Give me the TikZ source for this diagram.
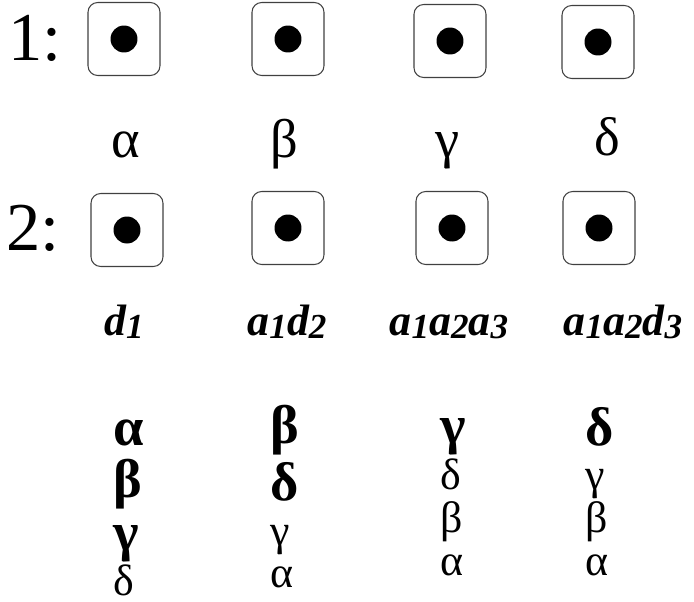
\documentclass[tikz,border=0pt]{standalone}
\usepackage{fontspec}
\setmainfont{Liberation Serif}
\usetikzlibrary{positioning}
\newcommand{\idx}[1]{\raisebox{-0.08em}{\fontsize{20}{20}\selectfont #1}}

\begin{document}
\begin{tikzpicture}[x=0.02cm,y=-0.02cm,
  cell/.style={draw=black!75,line width=0.6pt,rounded corners=5.5pt,
    minimum width=1.44cm,minimum height=1.46cm},
  pip/.style={circle,fill=black,inner sep=0pt,minimum size=0.54cm},
  rowno/.style={font=\fontsize{39}{40}\selectfont,anchor=base west,inner sep=0pt},
  greek/.style={font=\fontsize{31}{32}\selectfont,anchor=base,inner sep=0pt},
  tag/.style={font=\fontsize{25}{30}\selectfont\bfseries\itshape,anchor=base,inner sep=0pt},
  strong/.style={font=\fontsize{31}{32}\selectfont\bfseries,anchor=base west,inner sep=0pt},
  weak/.style={font=\fontsize{25}{26}\selectfont,anchor=base west,inner sep=0pt}]
  \useasboundingbox (0,0) rectangle (694,602);
  % row 1
  \node[rowno](n1) at (8,60){1:};
  \node[cell](a1) at (124,39){};
  \node[cell](b1) at (288,39){};
  \node[cell](c1) at (450,41){};
  \node[cell](d1) at (598,42){};
  \node[pip] at (a1){};
  \node[pip] at (b1){};
  \node[pip] at (c1){};
  \node[pip] at (d1){};
  \node[greek](ga) at (126,157){α};
  \node[greek](gb) at (284,157){β};
  \node[greek](gc) at (448,157){γ};
  \node[greek](gd) at (607,155){δ};
  % row 2
  \node[rowno](n2) at (6,250){2:};
  \node[cell](a2) at (127,230){};
  \node[cell](b2) at (288,228){};
  \node[cell](c2) at (452,228){};
  \node[cell](d2) at (599,228){};
  \node[pip] at (a2){};
  \node[pip] at (b2){};
  \node[pip] at (c2){};
  \node[pip] at (d2){};
  \node[tag](ta) at (124,335){d\idx{1}};
  \node[tag](tb) at (287,335){a\idx{1}d\idx{2}};
  \node[tag](tc) at (449,335){a\idx{1}a\idx{2}a\idx{3}};
  \node[tag](td) at (623,335){a\idx{1}a\idx{2}d\idx{3}};
  % orderings
  \node[strong](p1) at (113,445){α};
  \node[strong](p2) at (113,497){β};
  \node[strong](p3) at (113,550){γ};
  \node[weak](p4) at (113,595){δ};
  \node[strong](q1) at (270,443){β};
  \node[strong](q2) at (270,500){δ};
  \node[weak](q3) at (270,545){γ};
  \node[weak](q4) at (270,587){α};
  \node[strong](r1) at (440,443){γ};
  \node[weak](r2) at (440,489){δ};
  \node[weak](r3) at (440,532){β};
  \node[weak](r4) at (440,575){α};
  \node[strong](s1) at (585,445){δ};
  \node[weak](s2) at (585,489){γ};
  \node[weak](s3) at (585,532){β};
  \node[weak](s4) at (585,575){α};
\end{tikzpicture}
\end{document}
